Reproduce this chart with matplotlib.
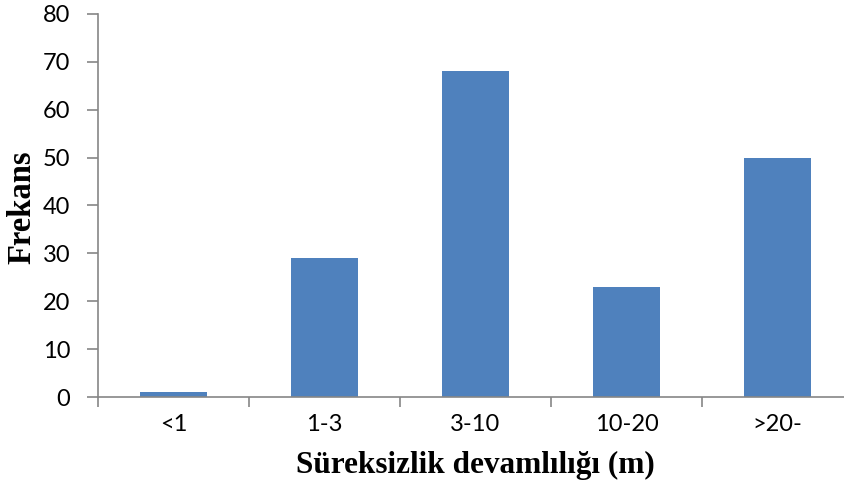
import matplotlib.pyplot as plt

categories = ['<1', '1-3', '3-10', '10-20', '>20-']
frequencies = [1, 29, 68, 23, 50]

fig = plt.figure(figsize=(8.44, 4.88), dpi=100)
ax = fig.add_axes([98 / 844, 91 / 488, 755 / 844, 383 / 488])

x = range(len(categories))
ax.bar(x, frequencies, width=0.45, color='#4F81BD', zorder=2)

ax.set_xlim(-0.5, len(categories) - 0.5)
ax.set_ylim(0, 80)
ax.set_yticks(range(0, 81, 10))

# category labels sit between the boundary ticks
ax.set_xticks(x)
ax.set_xticklabels(categories)
ax.set_xticks([i + 0.5 for i in range(-1, len(categories))], minor=True)
ax.tick_params(axis='x', which='major', length=0, pad=12)
ax.tick_params(axis='x', which='minor', length=7, width=1.2, color='#868686')
ax.tick_params(axis='y', length=8, width=1.2, color='#868686', pad=12)

for lbl in ax.get_xticklabels() + ax.get_yticklabels():
    lbl.set_family('Lato')
    lbl.set_fontsize(17)

for side in ['top', 'right']:
    ax.spines[side].set_visible(False)
for side in ['left', 'bottom']:
    ax.spines[side].set_color('#868686')
    ax.spines[side].set_linewidth(1.2)

fig.text(475 / 844, 1 - 465 / 488, 'Süreksizlik devamlılığı (m)',
         family='Liberation Serif', fontweight='bold', fontsize=22.5,
         ha='center', va='center')
fig.text(22 / 844, 1 - 207 / 488, 'Frekans', family='Liberation Serif',
         fontweight='bold', fontsize=23.5, rotation=90,
         ha='center', va='center')

fig.savefig('out.png', dpi=100)
